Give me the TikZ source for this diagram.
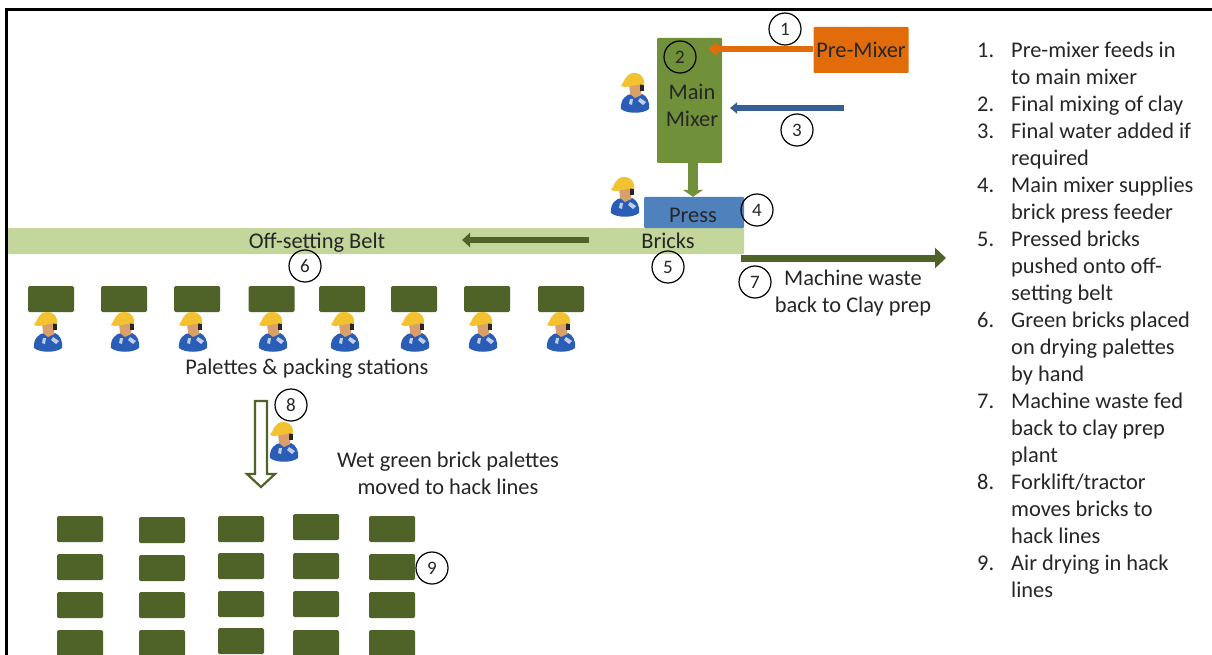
\documentclass[tikz,border=0pt]{standalone}
\usepackage{fontspec}
\setmainfont{Carlito}
\usetikzlibrary{arrows.meta, positioning}
\definecolor{palettegreen}{HTML}{4F6228}
\definecolor{mixergreen}{HTML}{71903A}
\definecolor{beltgreen}{HTML}{C3D69B}
\definecolor{pressblue}{HTML}{4F81BD}
\definecolor{waterblue}{HTML}{376092}
\definecolor{premixorange}{HTML}{E36C0A}
\definecolor{labeltext}{HTML}{262626}
\definecolor{hatyellow}{HTML}{F2C230}
\definecolor{workerblue}{HTML}{2A5DB5}
\definecolor{workerskin}{HTML}{D9A06B}
\tikzset{
  labelfont/.style={font=\fontsize{22.4}{27}\selectfont, text=labeltext, align=center},
  plantbox/.style={rounded corners=1pt, inner sep=0pt, labelfont},
  palette/.style={fill=palettegreen, rounded corners=1.5pt, minimum width=46pt, minimum height=26pt, inner sep=0pt},
  stepcircle/.style={circle, draw=black, line width=1.2pt, minimum size=32pt, inner sep=0pt, font=\fontsize{19}{19}\selectfont, text=labeltext},
  worker/.pic={
    \fill[workerblue] (-14,16) .. controls (-15,7) and (-9,1) .. (-3,1) .. controls (1,4) and (4,4) .. (7,1) .. controls (12,3) and (15,9) .. (14,16) .. controls (8,21) and (-8,21) .. (-14,16) -- cycle;
    \fill[white!70!workerblue] (5,5) -- (11,9) -- (8,12) -- (3,8) -- cycle;
    \fill[white!70!workerblue] (-5,6) -- (-2,6) -- (-3,12) -- (-6,11) -- cycle;
    \fill[workerskin] (-6,-9) -- (7,-9) -- (6,2) -- (0,5) -- (-5,1) -- cycle;
    \fill[black!85] (5,-10) rectangle (9,-2);
    \fill[hatyellow] (-14,-7) .. controls (-11,-10) and (-10,-20) .. (-1,-20) .. controls (7,-20) and (10,-14) .. (9,-8) .. controls (2,-10) and (-7,-4) .. (-14,-7) -- cycle;
  },
}
\begin{document}
\begin{tikzpicture}[x=1pt, y=-1pt]
  \useasboundingbox (0,0) rectangle (1212,655);
  \fill[white] (0,0) rectangle (1212,655);
  \draw[line width=3.5pt] (6.5,655) -- (6.5,9.5) -- (1212,9.5);

  % plant
  \node[plantbox, fill=beltgreen, minimum width=736pt, minimum height=26pt] (belt) at (376,241) {};
  \node[plantbox, fill=mixergreen, minimum width=65pt, minimum height=125pt] (mainmixer) at (689.5,100.5) {};
  \node[plantbox, fill=premixorange, minimum width=95pt, minimum height=46pt] (premixer) at (861,50) {Pre-Mixer};
  \node[plantbox, fill=pressblue, minimum width=100pt, minimum height=31pt] (press) at (694,212.5) {};
  \node[labelfont] (mixerlabel) at (692,105) {Main\\Mixer};
  \node[labelfont] (presslabel) at (693,215) {Press};
  \node[labelfont] (beltlabel) at (317,243) {Off-setting Belt};
  \node[labelfont] (brickslabel) at (668,241) {Bricks};
  \node[labelfont] (wastelabel) at (853,293) {Machine waste\\back to Clay prep};
  \node[labelfont] (stationslabel) at (307,369) {Palettes \& packing stations};
  \node[labelfont] (wetlabel) at (448,473) {Wet green brick palettes\\moved to hack lines};

  % connectors
  \coordinate (feedend) at (708,49);
  \coordinate (waterstart) at (844,108);
  \coordinate (waterend) at (730,108);
  \coordinate (beltstart) at (589,240);
  \coordinate (beltend) at (462,240);
  \coordinate (wastestart) at (741,258);
  \coordinate (wasteend) at (946,258);
  \coordinate (forkstart) at (261,401);
  \draw[-{Triangle[width=13pt,length=9pt]}, premixorange, line width=6pt] (premixer.west |- feedend) -- (feedend);
  \draw[-{Triangle[width=11pt,length=7pt]}, waterblue, line width=6pt] (waterstart) -- (waterend);
  \draw[-{Triangle[width=20pt,length=7pt]}, mixergreen, line width=10pt] (mainmixer.south -| 693,0) -- (press.north -| 693,0);
  \draw[-{Triangle[width=14pt,length=8pt]}, palettegreen, line width=6pt] (beltstart) -- (beltend);
  \draw[-{Triangle[width=20pt,length=11pt]}, palettegreen, line width=7pt] (wastestart) -- (wasteend);
  \draw[palettegreen, line width=2.2pt, fill=white, line join=miter] (forkstart) -- ++(6,0) -- ++(0,73) -- ++(8,0) -- ++(-14,13) -- ++(-14,-13) -- ++(8,0) -- ++(0,-73) -- cycle;

  % palettes and packing stations
  \foreach \px/\wx [count=\i] in {51/48, 124/125, 197/193, 271.5/273, 342/345, 414/415, 487/483, 561/561}{
    \node[palette] (station\i) at (\px,299) {};
    \pic at (\wx,332) {worker};
  }
  \pic at (635,93) {worker};
  \pic at (625,197) {worker};
  \pic at (284,442) {worker};

  % hack lines
  \foreach \cx/\ya/\yb/\yc/\yd [count=\c] in {80/529/567/605/643, 162/530/568/605/643, 241/529/566/604/641, 316/527/566/604/643, 392/529/567/605/643}{
    \node[palette] (hack\c a) at (\cx,\ya) {};
    \node[palette] (hack\c b) at (\cx,\yb) {};
    \node[palette] (hack\c c) at (\cx,\yc) {};
    \node[palette] (hack\c d) at (\cx,\yd) {};
  }

  % step numbers
  \node[stepcircle] (one) at (785,29) {1};
  \node[stepcircle] (two) at (680,57) {2};
  \node[stepcircle] (three) at (797,130) {3};
  \node[stepcircle] (four) at (757,210) {4};
  \node[stepcircle] (five) at (668,267) {5};
  \node[stepcircle] (six) at (305,266) {6};
  \node[stepcircle] (seven) at (755,282) {7};
  \node[stepcircle] (eight) at (291,405) {8};
  \node[stepcircle] (nine) at (432,568) {9};

  % key
  \node[anchor=north west, inner sep=0pt, text=labeltext, font=\fontsize{22.4}{27}\selectfont] (key) at (977,38) {%
    \begin{tabular}{@{}l@{\hspace{17pt}}l@{}}
      1. & Pre-mixer feeds in\\
         & to main mixer\\
      2. & Final mixing of clay\\
      3. & Final water added if\\
         & required\\
      4. & Main mixer supplies\\
         & brick press feeder\\
      5. & Pressed bricks\\
         & pushed onto off-\\
         & setting belt\\
      6. & Green bricks placed\\
         & on drying palettes\\
         & by hand\\
      7. & Machine waste fed\\
         & back to clay prep\\
         & plant\\
      8. & Forklift/tractor\\
         & moves bricks to\\
         & hack lines\\
      9. & Air drying in hack\\
         & lines
    \end{tabular}};
\end{tikzpicture}
\end{document}
